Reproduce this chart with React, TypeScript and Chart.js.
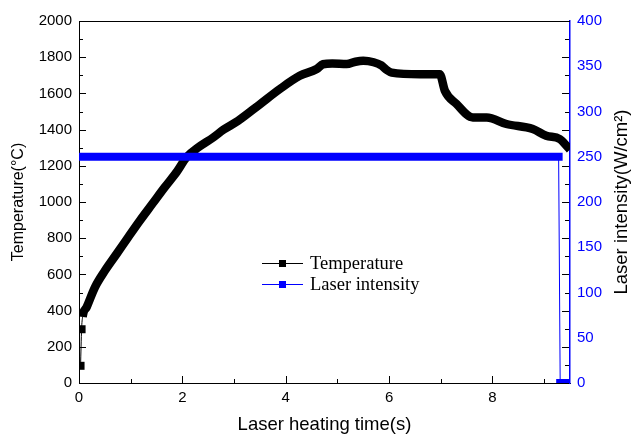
import React, { useEffect, useRef } from "react";
import { Chart, registerables } from "chart.js";

Chart.register(...registerables);

// Temperature curve (time in s, temperature in °C)
const timeS = [
  0.03, 0.05, 0.07, 0.15, 0.31, 0.5, 0.73, 0.95, 1.18, 1.42, 1.66, 1.9, 2.08,
  2.3, 2.6, 2.8, 3.08, 3.5, 3.89, 4.27, 4.6, 4.72, 4.9, 5.18, 5.35, 5.5, 5.7,
  5.85, 5.95, 6.05, 6.6, 6.98, 7.08, 7.3, 7.62, 7.89, 8.27, 8.78, 9.04, 9.3,
  9.46, 9.5,
];
const temperatureC = [
  95, 297, 365, 420, 530, 620, 714, 805, 898, 990, 1082, 1170, 1247,
  1300, 1357, 1400, 1449, 1540, 1625, 1697, 1735, 1761, 1765, 1762, 1775, 1780, 1772,
  1755, 1730, 1715, 1706, 1706, 1614, 1543, 1467, 1467, 1431, 1403, 1366, 1348,
  1302, 1290,
];

// Laser intensity (time in s, W/cm²)
const laserTimeS = [0, 9.28, 9.31, 9.5];
const laserIntensity = [250, 250, 0, 0];

// Axis ranges / steps
const xRange = [0, 9.5];
const xStep = 2;
const tempRange = [0, 2000];
const tempStep = 200;
const laserRange = [0, 400];
const laserStep = 50;

const seriesLabels = ["Temperature", "Laser intensity"];
const axisTitles = {
  x: "Laser heating time(s)",
  y: "Temperature(°C)",
  y1: "Laser intensity(W/cm²)",
};

const BLUE = "#0000ff";
const SANS = '"Liberation Sans", Arial, sans-serif';
const SERIF = '"Liberation Serif", "Times New Roman", serif';

const framePlugin = {
  id: "frameTicks",
  afterDraw(chart: any) {
    const { ctx, chartArea, scales } = chart;
    const { left, right, top, bottom } = chartArea;
    ctx.save();
    ctx.strokeStyle = "#000";
    ctx.lineWidth = 1;
    const seg = (x1: number, y1: number, x2: number, y2: number) => {
      ctx.beginPath();
      ctx.moveTo(x1, y1);
      ctx.lineTo(x2, y2);
      ctx.stroke();
    };
    // top border
    seg(left, Math.round(top) + 0.5, right, Math.round(top) + 0.5);
    // x ticks (inward)
    const xs = scales.x;
    const xMinor = xStep / 2;
    for (let i = 0; xs.min + i * xMinor <= xs.max + 1e-9; i++) {
      const v = xs.min + i * xMinor;
      const px = Math.round(xs.getPixelForValue(v)) + 0.5;
      const len = i % 2 === 0 ? 7 : 4;
      seg(px, bottom, px, bottom - len);
    }
    // y ticks (inward, both sides)
    const ys = scales.y;
    const yMinor = tempStep / 2;
    for (let i = 0; ys.min + i * yMinor <= ys.max + 1e-9; i++) {
      const v = ys.min + i * yMinor;
      const py = Math.round(ys.getPixelForValue(v)) + 0.5;
      const len = i % 2 === 0 ? 7 : 4;
      seg(left, py, left + len, py);
      seg(right - 1, py, right - 1 - len, py);
    }
    // right axis title, reading bottom-to-top
    const y1 = scales.y1;
    ctx.save();
    ctx.translate(621.5, (y1.top + y1.bottom) / 2);
    ctx.rotate(-Math.PI / 2);
    ctx.fillStyle = "#000";
    ctx.font = `18.5px ${SANS}`;
    ctx.textAlign = "center";
    ctx.textBaseline = "middle";
    ctx.fillText(axisTitles.y1, 0, 0);
    ctx.restore();
    ctx.restore();
  },
};

const legendPlugin = {
  id: "innerLegend",
  afterDatasetsDraw(chart: any) {
    const { ctx } = chart;
    const lineX0 = 262;
    const lineX1 = 303;
    const textX = 310;
    const rowY = [263, 284];
    ctx.save();
    chart.data.datasets.forEach((ds: any, i: number) => {
      const y = rowY[i];
      ctx.strokeStyle = ds.borderColor;
      ctx.lineWidth = 1;
      ctx.beginPath();
      ctx.moveTo(lineX0, y + 0.5);
      ctx.lineTo(lineX1, y + 0.5);
      ctx.stroke();
      ctx.fillStyle = ds.borderColor;
      const mid = (lineX0 + lineX1) / 2;
      ctx.fillRect(mid - 3.5, y - 3, 7, 7);
      ctx.fillStyle = "#000";
      ctx.font = `18.5px ${SERIF}`;
      ctx.textBaseline = "middle";
      ctx.textAlign = "left";
      ctx.fillText(ds.label, textX, y + 1);
    });
    ctx.restore();
  },
};

const plain = (v: any) => String(v);

export default function App() {
  const canvasRef = useRef<HTMLCanvasElement | null>(null);

  useEffect(() => {
    document.body.style.margin = "0";
    const canvas = canvasRef.current;
    if (!canvas) return;

    const tempData = timeS.map((t, i) => ({ x: t, y: temperatureC[i] }));
    const laserData = laserTimeS.map((t, i) => ({ x: t, y: laserIntensity[i] }));

    const chart = new Chart(canvas, {
      type: "line",
      data: {
        datasets: [
          {
            label: seriesLabels[0],
            data: tempData,
            yAxisID: "y",
            borderColor: "#000000",
            backgroundColor: "#000000",
            borderWidth: 8,
            borderCapStyle: "butt",
            borderJoinStyle: "round",
            pointStyle: "rect",
            pointRadius: (c: any) => (c.dataIndex < 2 ? 5.66 : 0),
            pointBorderWidth: 0,
            pointHoverRadius: 0,
            cubicInterpolationMode: "monotone",
            fill: false,
            order: 1,
            clip: 0,
            segment: {
              borderWidth: (c: any) => (c.p1DataIndex <= 2 ? 1 : 8.5),
            },
          } as any,
          {
            label: seriesLabels[1],
            data: laserData,
            yAxisID: "y1",
            borderColor: BLUE,
            backgroundColor: BLUE,
            borderWidth: 8,
            borderCapStyle: "square",
            pointRadius: 0,
            pointHoverRadius: 0,
            tension: 0,
            fill: false,
            order: 0,
            clip: 0,
            segment: {
              borderWidth: (c: any) => (c.p0DataIndex === 1 ? 1 : 8),
            },
          } as any,
        ],
      },
      options: {
        responsive: false,
        animation: false,
        devicePixelRatio: 1,
        layout: { padding: { top: 21, left: 0, right: 0, bottom: 0 } },
        plugins: {
          legend: { display: false },
          tooltip: { enabled: false },
        },
        scales: {
          x: {
            type: "linear",
            min: xRange[0],
            max: xRange[1],
            grid: { display: false, drawTicks: false },
            border: { display: true, color: "#000", width: 1 },
            ticks: {
              stepSize: xStep,
              includeBounds: false,
              padding: 6,
              color: "#000",
              font: { family: SANS, size: 15 },
              callback: plain,
            },
            title: {
              display: true,
              text: axisTitles.x,
              color: "#000",
              font: { family: SANS, size: 18.5 },
              padding: { top: 0, bottom: -1 },
            },
            afterFit: (s: any) => {
              s.height = 52;
            },
          },
          y: {
            type: "linear",
            position: "left",
            min: tempRange[0],
            max: tempRange[1],
            grid: { display: false, drawTicks: false },
            border: { display: true, color: "#000", width: 1 },
            ticks: {
              stepSize: tempStep,
              includeBounds: false,
              padding: 7,
              color: "#000",
              font: { family: SANS, size: 15 },
              callback: plain,
            },
            title: {
              display: true,
              text: axisTitles.y,
              color: "#000",
              font: { family: SANS, size: 16 },
              padding: { top: 9, bottom: 0 },
            },
            afterFit: (s: any) => {
              s.width = 79;
            },
          },
          y1: {
            type: "linear",
            position: "right",
            min: laserRange[0],
            max: laserRange[1],
            grid: { display: false, drawTicks: false },
            border: { display: true, color: BLUE, width: 1.5 },
            ticks: {
              stepSize: laserStep,
              includeBounds: false,
              padding: 7,
              color: BLUE,
              font: { family: SANS, size: 15 },
              callback: plain,
            },
            title: { display: false },
            afterFit: (s: any) => {
              s.width = 62;
            },
          },
        },
      } as any,
      plugins: [framePlugin, legendPlugin],
    });

    return () => {
      chart.destroy();
    };
  }, []);

  return (
    <div style={{ position: "absolute", left: 0, top: 0, width: 632, height: 435, background: "#fff" }}>
      <canvas ref={canvasRef} width={632} height={435} style={{ display: "block" }} />
    </div>
  );
}
